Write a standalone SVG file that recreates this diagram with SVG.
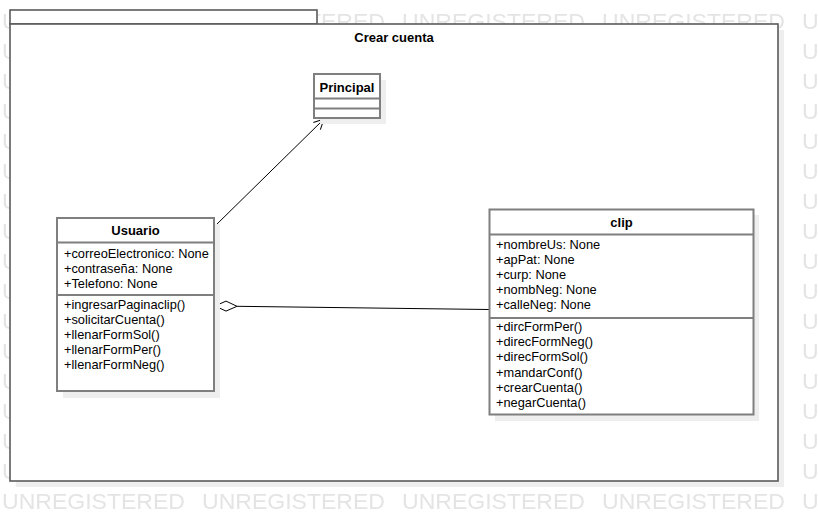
<svg xmlns="http://www.w3.org/2000/svg" width="818" height="522" viewBox="0 0 818 522">
<style>
.wm{font-family:"Liberation Sans",Arial,sans-serif;font-size:22px;fill:#e4e4e4}
.shadow{fill:#eeeeee;stroke:none}
.frame{fill:#ffffff;stroke:#5a5a5a;stroke-width:1.6}
.box{fill:#ffffff;stroke:#7f7f7f;stroke-width:2}
.sep{stroke:#7f7f7f;stroke-width:2}
.title{font-family:"Liberation Sans",Arial,sans-serif;font-size:13px;font-weight:bold;fill:#000;text-anchor:middle}
.member{font-family:"Liberation Sans",Arial,sans-serif;font-size:12.8px;fill:#000}
.conn{fill:none;stroke:#000;stroke-width:1}
</style>
<defs>
<pattern id="wmp" x="0" y="0" width="200" height="30" patternUnits="userSpaceOnUse">
<text class="wm" x="2" y="29" textLength="183" lengthAdjust="spacingAndGlyphs">UNREGISTERED</text>
</pattern>
<marker id="open" viewBox="0 0 12 12" refX="11" refY="6" markerWidth="12" markerHeight="12" markerUnits="userSpaceOnUse" orient="auto">
<path d="M1,1 L11,6 L1,11" fill="none" stroke="#000" stroke-width="1"/>
</marker>
</defs>
<rect x="0" y="0" width="818" height="522" fill="#ffffff"/>
<rect x="0" y="0" width="818" height="522" fill="url(#wmp)"/>
<g id="frame-crear-cuenta">
<rect class="shadow" x="16" y="30" width="768" height="457"/>
<rect class="frame" x="10" y="10" width="307" height="14"/>
<rect class="frame" x="10" y="24" width="768" height="457"/>
<text class="title" x="394" y="42">Crear cuenta</text>
</g>
<g id="connectors">
<line class="conn" x1="215" y1="226" x2="324" y2="119" marker-end="url(#open)"/>
<line class="conn" x1="237" y1="306.3" x2="489" y2="309.5"/>
<polygon points="215,306 226,301.1 237,306.3 226,311.1" fill="#ffffff" stroke="#000" stroke-width="1"/>
</g>
<g id="class-principal">
<rect class="shadow" x="320" y="80" width="66" height="44"/>
<rect class="box" x="314" y="74" width="66" height="44"/>
<line class="sep" x1="314" y1="98.5" x2="380" y2="98.5"/>
<line class="sep" x1="314" y1="108.5" x2="380" y2="108.5"/>
<text class="title" x="347" y="91.5">Principal</text>
</g>
<g id="class-usuario">
<rect class="shadow" x="63" y="224" width="157" height="174"/>
<rect class="box" x="57" y="218" width="157" height="173"/>
<line class="sep" x1="57" y1="242.5" x2="214" y2="242.5"/>
<line class="sep" x1="57" y1="295" x2="214" y2="295"/>
<text class="title" x="135.5" y="234.5">Usuario</text>
<text class="member" x="64" y="258">+correoElectronico: None</text>
<text class="member" x="64" y="273">+contraseña: None</text>
<text class="member" x="64" y="288">+Telefono: None</text>
<text class="member" x="64" y="309">+ingresarPaginaclip()</text>
<text class="member" x="64" y="324">+solicitarCuenta()</text>
<text class="member" x="64" y="339">+llenarFormSol()</text>
<text class="member" x="64" y="354">+llenarFormPer()</text>
<text class="member" x="64" y="369">+llenarFormNeg()</text>
</g>
<g id="class-clip">
<rect class="shadow" x="495" y="215" width="264" height="206"/>
<rect class="box" x="489.5" y="209.5" width="264" height="205"/>
<line class="sep" x1="489.5" y1="234.5" x2="753.5" y2="234.5"/>
<line class="sep" x1="489.5" y1="318" x2="753.5" y2="318"/>
<text class="title" x="621.5" y="227">clip</text>
<text class="member" x="496" y="248.5">+nombreUs: None</text>
<text class="member" x="496" y="263.5">+apPat: None</text>
<text class="member" x="496" y="278.5">+curp: None</text>
<text class="member" x="496" y="293.5">+nombNeg: None</text>
<text class="member" x="496" y="309">+calleNeg: None</text>
<text class="member" x="496" y="331">+dircFormPer()</text>
<text class="member" x="496" y="346">+direcFormNeg()</text>
<text class="member" x="496" y="361">+direcFormSol()</text>
<text class="member" x="496" y="376.5">+mandarConf()</text>
<text class="member" x="496" y="391.5">+crearCuenta()</text>
<text class="member" x="496" y="406.5">+negarCuenta()</text>
</g>
</svg>
